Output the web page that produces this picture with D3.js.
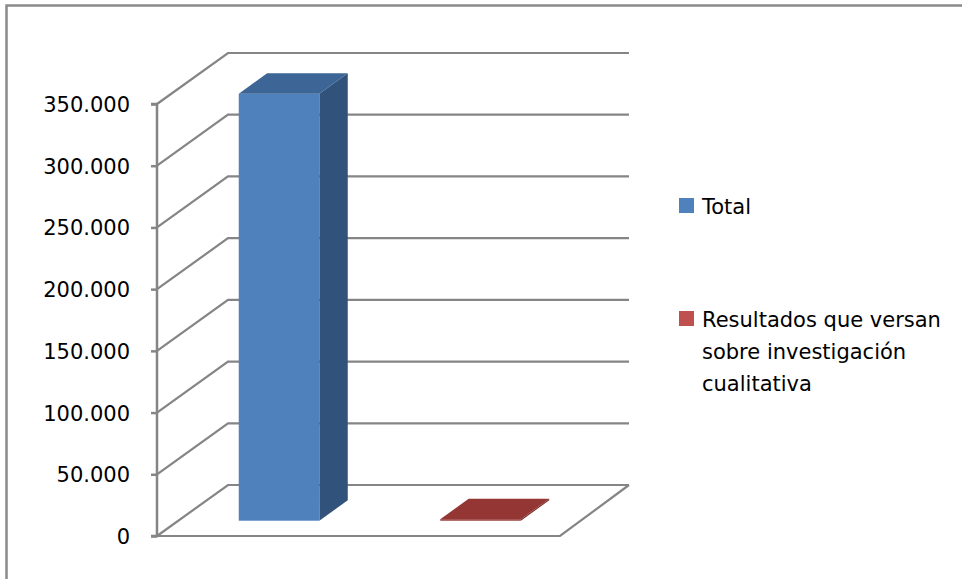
<!DOCTYPE html>
<html>
<head>
<meta charset="utf-8">
<script src="https://cdn.jsdelivr.net/npm/d3@7"></script>
<style>
  html, body { margin: 0; padding: 0; background: #ffffff; }
  svg { display: block; }
  text { font-family: "DejaVu Sans", "Open Sans", sans-serif; fill: #000; }
</style>
</head>
<body>
<svg id="chart" width="962" height="579"></svg>
<script>
// Data
const categories = ["Total", "Resultados que versan sobre investigación cualitativa"];
const values = [346000, 1200];
const tickValues = [0, 50000, 100000, 150000, 200000, 250000, 300000, 350000];
const legendLabels = [["Total"], ["Resultados que versan", "sobre investigación", "cualitativa"]];
const faceColors = [
  { front: "#4f81bd", top: "#3d6596", side: "#31527b", key: "#4f81bd" },
  { front: "#953735", top: "#943634", side: "#7a2c2a", key: "#c0504d" }
];

const svg = d3.select("#chart");

// Frame
svg.append("path")
  .attr("d", "M6.5,579 V5.5 H962")
  .attr("fill", "none")
  .attr("stroke", "#8a8a8a")
  .attr("stroke-width", 2.5);

// Projection: front plane scales plus an oblique depth offset
const DX = 71, DY = -51;
const y = d3.scaleLinear().domain([0, 350000]).range([536, 104]);
const x = d3.scaleBand().domain(categories).range([157, 560]);
const grid = "#858585";

const g = svg.append("g");

// Side wall diagonals and back wall gridlines
tickValues.forEach(v => {
  const y0 = y(v);
  g.append("path")
    .attr("d", `M157,${y0} L${157 + DX},${y0 + DY} H${560 + DX - 2}`)
    .attr("fill", "none").attr("stroke", grid).attr("stroke-width", 2.2);
});

// Floor outline
g.append("path")
  .attr("d", `M157,${y(0)} H560 L${560 + DX - 2},${y(0) + DY}`)
  .attr("fill", "none").attr("stroke", grid).attr("stroke-width", 2.2);

// 3D bars
const f0 = 0.3, f1 = 0.7;
const barW = x.bandwidth() * 0.4;
categories.forEach((c, i) => {
  const col = faceColors[i];
  const xl = x(c) + (x.bandwidth() - barW) / 2 + f0 * DX;
  const xr = xl + barW;
  const yt = y(values[i]) + f0 * DY;
  const yb = y(0) + f0 * DY;
  const ddx = (f1 - f0) * DX, ddy = (f1 - f0) * DY;
  // side
  g.append("path")
    .attr("d", `M${xr},${yt} L${xr + ddx},${yt + ddy} L${xr + ddx},${yb + ddy} L${xr},${yb} Z`)
    .attr("fill", col.side);
  // front
  g.append("rect")
    .attr("x", xl).attr("y", yt)
    .attr("width", barW).attr("height", Math.max(0, yb - yt))
    .attr("fill", col.front);
  // top
  g.append("path")
    .attr("d", `M${xl},${yt} L${xl + ddx},${yt + ddy} L${xr + ddx},${yt + ddy} L${xr},${yt} Z`)
    .attr("fill", col.top);
});

// Value axis
const fmt = d3.formatLocale({ decimal: ",", thousands: ".", grouping: [3], currency: ["", ""] }).format(",d");
const axis = d3.axisLeft(y).tickValues(tickValues).tickFormat(fmt).tickSize(6).tickPadding(21);
const ag = svg.append("g").attr("transform", "translate(157,0)").call(axis);
ag.select(".domain").attr("stroke", grid).attr("stroke-width", 2.5).attr("d", `M-6,${y(350000)}H0V${y(0)}H-6`);
ag.selectAll(".tick line").attr("stroke", grid).attr("stroke-width", 2.5);
ag.selectAll(".tick text")
  .attr("font-family", "'DejaVu Sans', sans-serif")
  .attr("font-size", 21)
  .attr("fill", "#000")
  .attr("dy", "0.36em");

// Legend
const leg = svg.append("g");
const legY = [206, 319];
legendLabels.forEach((lines, i) => {
  leg.append("rect")
    .attr("x", 679).attr("y", legY[i] - 8)
    .attr("width", 15).attr("height", 15)
    .attr("fill", faceColors[i].key);
  const t = leg.append("text")
    .attr("x", 702).attr("y", legY[i])
    .attr("font-size", 21);
  lines.forEach((ln, j) => {
    t.append("tspan").attr("x", 702).attr("dy", j === 0 ? "0.36em" : 32).text(ln);
  });
});
</script>
</body>
</html>
